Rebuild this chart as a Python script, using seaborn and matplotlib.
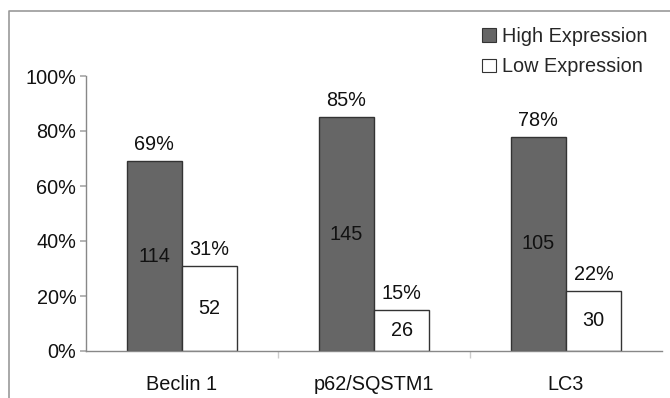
import matplotlib
matplotlib.use("Agg")
import matplotlib.pyplot as plt
from matplotlib.lines import Line2D
from matplotlib.patches import Patch
import seaborn as sns
import pandas as pd

categories = ["Beclin 1", "p62/SQSTM1", "LC3"]
series = ["High Expression", "Low Expression"]
high_pct = [69, 85, 78]
low_pct = [31, 15, 22]
high_n = [114, 145, 105]
low_n = [52, 26, 30]
y_ticks = [0, 20, 40, 60, 80, 100]
y_tick_labels = ["0%", "20%", "40%", "60%", "80%", "100%"]

sns.set_theme(style="white")
plt.rcParams["font.family"] = ["Liberation Sans", "DejaVu Sans"]

df = pd.DataFrame({
    "category": categories * 2,
    "series": [series[0]] * 3 + [series[1]] * 3,
    "pct": high_pct + low_pct,
    "n": high_n + low_n,
})

FS = 14.3
fig = plt.figure(figsize=(6.7, 3.98), dpi=100)
W, H = 670, 398
ax = fig.add_axes([86 / W, 1 - 351 / H, (662 - 86) / W, (351 - 76) / H])

colors = {series[0]: "#666666", series[1]: "#ffffff"}
sns.barplot(data=df, x="category", y="pct", hue="series", order=categories,
            hue_order=series, palette=colors, width=0.575, edgecolor="#333333",
            linewidth=1.0, saturation=1, legend=False, ax=ax)

ax.set_xlim(-0.5, 2.5)
ax.set_ylim(0, 100)
ax.set_yticks(y_ticks)
ax.set_yticklabels(y_tick_labels)
ax.set_xlabel("")
ax.set_ylabel("")
for s in ["top", "right"]:
    ax.spines[s].set_visible(False)
for s in ["left", "bottom"]:
    ax.spines[s].set_color("#888888")
    ax.spines[s].set_linewidth(1.0)
ax.tick_params(axis="y", which="major", left=True, length=4, color="#aaaaaa",
               labelsize=FS, pad=3, labelcolor="#111111")
ax.tick_params(axis="x", which="major", bottom=False, labelsize=FS, pad=11,
               labelcolor="#111111")
ax.set_xticks([0.5, 1.5], minor=True)
ax.tick_params(axis="x", which="minor", bottom=True, length=5, color="#cccccc")

for cont, pcts, ns in zip(ax.containers, [high_pct, low_pct], [high_n, low_n]):
    for bar, p, n in zip(cont, pcts, ns):
        cx = bar.get_x() + bar.get_width() / 2
        top = bar.get_height()
        ax.annotate(f"{p}%", (cx, top), xytext=(0, 5), textcoords="offset points",
                    ha="center", va="bottom", fontsize=FS, color="#111111")
        ax.text(cx, top / 2, str(n), ha="center", va="center", fontsize=FS,
                color="#111111")

handles = [Patch(facecolor=colors[s], edgecolor="#333333", linewidth=0.8) for s in series]
fig.legend(handles, series, loc="upper left", bbox_to_anchor=(474 / W, 1 - 19 / H),
           frameon=False, fontsize=FS, handlelength=0.7, handleheight=0.7,
           handletextpad=0.3, labelspacing=0.58, borderaxespad=0)

frame = Line2D([9 / W, 9 / W, 1.0], [0.0, 1 - 11 / H, 1 - 11 / H],
               transform=fig.transFigure, color="#999999", linewidth=1.2)
fig.add_artist(frame)

fig.savefig("out.png", dpi=100)
